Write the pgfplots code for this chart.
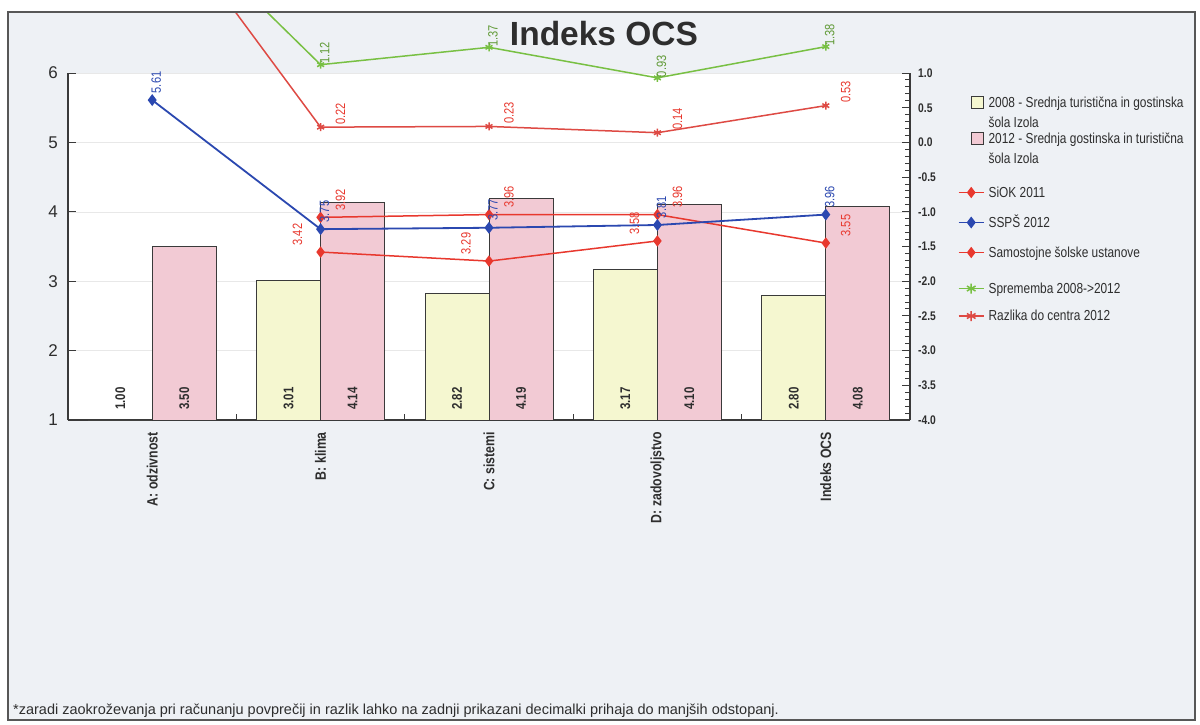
\documentclass[border=0pt]{standalone}
\usepackage{pgfplots}
\pgfplotsset{compat=1.18}
\usepackage{fontspec}
\setmainfont{Liberation Sans}
\newfontfamily\narrow{Liberation Sans}[FakeStretch=0.82]

\definecolor{frameBg}{HTML}{EEF1F5}
\definecolor{barA}{HTML}{F5F7D0}
\definecolor{barB}{HTML}{F2CAD4}
\definecolor{redc}{HTML}{E8382E}
\definecolor{bluec}{HTML}{2B48B0}
\definecolor{greenc}{HTML}{78C043}
\definecolor{razc}{HTML}{DE4A44}
\definecolor{txt}{HTML}{2E2E2E}
\definecolor{axc}{HTML}{3A3A3A}

\pgfplotsset{
  my line legend/.style={legend image code/.code={\draw[mark repeat=2,mark phase=2,##1] plot coordinates {(0pt,4.5pt) (12.5pt,4.5pt) (25pt,4.5pt)};}},
  my bar legend/.style={legend image code/.code={\draw[##1] (13pt,-1.5pt) rectangle (25pt,10.5pt);}},
  lbl/.style n args={4}{nodes near coords, point meta=explicit symbolic,
    every node near coord/.style={xshift=#1, yshift=#2, rotate=90, anchor=west, inner sep=0pt, font=#3, text=#4}},
}
\newcommand{\lblfont}{\narrow\fontsize{13.5}{14}\selectfont}

\begin{document}
\begin{tikzpicture}[x=1pt,y=1pt]
\path (-68,-304) rectangle (1132,420);
\fill[frameBg] (-60,-300) rectangle (1127,408);

\begin{axis}[
  at={(0,0)}, anchor=south west,
  scale only axis, width=842pt, height=347pt,
  xmin=-0.5, xmax=4.5, ymin=1, ymax=6,
  axis x line*=bottom, axis y line*=left,
  axis line style={axc, line width=1.3pt},
  xtick={0,1,2,3,4},
  xticklabels={A: odzivnost, B: klima, C: sistemi, D: zadovoljstvo, Indeks OCS},
  minor xtick={0.5,1.5,2.5,3.5},
  major x tick style={draw=none},
  minor x tick style={axc, line width=1pt},
  tick align=inside, major tick length=8pt, minor tick length=6pt,
  ytick={1,2,3,4,5,6},
  ymajorgrids, grid style={draw=black!9, line width=0.6pt},
  y tick style={axc, line width=1pt},
  yticklabel style={font=\fontsize{17}{17}\selectfont, text=txt, inner sep=0pt, xshift=-10pt},
  xticklabel style={font=\narrow\bfseries\fontsize{15}{16}\selectfont, text=txt, yshift=-12pt, rotate=90, anchor=east, inner sep=0pt},
  axis background/.style={fill=white},
  /pgf/number format/assume math mode=true,
]
\addplot[ybar, bar width=64pt, bar shift=-32pt, fill=barA, draw=axc, line width=0.9pt]
  coordinates {(0,1.00) (1,3.01) (2,2.82) (3,3.17) (4,2.80)};
\addplot[ybar, bar width=64pt, bar shift=32pt, fill=barB, draw=axc, line width=0.9pt]
  coordinates {(0,3.50) (1,4.14) (2,4.19) (3,4.10) (4,4.08)};
% bar value labels (at the bottom of each bar)
\addplot[draw=none, mark=none, lbl={-32pt}{10pt}{\narrow\bfseries\fontsize{14}{14}\selectfont}{txt}]
  coordinates {(0,1)[1.00] (1,1)[3.01] (2,1)[2.82] (3,1)[3.17] (4,1)[2.80]};
\addplot[draw=none, mark=none, lbl={32pt}{10pt}{\narrow\bfseries\fontsize{14}{14}\selectfont}{txt}]
  coordinates {(0,1)[3.50] (1,1)[4.14] (2,1)[4.19] (3,1)[4.10] (4,1)[4.08]};
% SiOK 2011
\addplot[redc, line width=1.5pt, mark=diamond*, mark size=4.5pt, lbl={20pt}{6pt}{\lblfont}{redc}]
  coordinates {(1,3.92)[3.92] (2,3.96)[3.96] (3,3.96)[3.96] (4,3.55)[3.55]};
% Samostojne solske ustanove
\addplot[redc, line width=1.5pt, mark=diamond*, mark size=4.5pt, lbl={-23pt}{6pt}{\lblfont}{redc}]
  coordinates {(1,3.42)[3.42] (2,3.29)[3.29] (3,3.58)[3.58]};
% SSPS 2012
\addplot[bluec, line width=1.8pt, mark=diamond*, mark size=4.5pt, lbl={4pt}{6pt}{\lblfont}{bluec}]
  coordinates {(0,5.61)[5.61] (1,3.75)[3.75] (2,3.77)[3.77] (3,3.81)[3.81] (4,3.96)[3.96]};
\end{axis}

\begin{scope}
\clip (-60,-300) rectangle (1127,408);
\begin{axis}[
  at={(0,0)}, anchor=south west,
  scale only axis, width=842pt, height=347pt,
  xmin=-0.5, xmax=4.5, ymin=-4, ymax=1,
  axis x line=none, axis y line*=right,
  axis line style={axc, line width=1.3pt},
  clip=false,
  ytick={-4,-3.5,-3,-2.5,-2,-1.5,-1,-0.5,0,0.5,1},
  yticklabels={-4.0,-3.5,-3.0,-2.5,-2.0,-1.5,-1.0,-0.5,0.0,0.5,1.0},
  minor y tick num=4,
  tick align=inside, major tick length=8pt, minor tick length=5pt,
  y tick style={axc, line width=1pt},
  yticklabel style={font=\narrow\bfseries\fontsize{12.5}{13}\selectfont, text=txt, inner sep=0pt, xshift=8pt},
  my line legend,
  legend style={at={(1.053,0.94)}, anchor=north west, draw=none, fill=none,
    font=\narrow\fontsize{14.5}{20}\selectfont, text=txt, row sep=16pt, column sep=4pt,
    cells={anchor=base west},
    nodes={inner sep=0pt, text height=11pt, text depth=3pt}},
]
\addlegendimage{my bar legend, fill=barA, draw=axc, line width=0.9pt}
\addlegendentry[text depth=9pt]{\begin{tabular}[t]{@{}l@{}}2008 - Srednja turistična in gostinska\\šola Izola\end{tabular}}
\addlegendimage{my bar legend, fill=barB, draw=axc, line width=0.9pt}
\addlegendentry[text depth=27pt]{\begin{tabular}[t]{@{}l@{}}2012 - Srednja gostinska in turistična\\šola Izola\end{tabular}}
\addlegendimage{my line legend, redc, line width=1.5pt, mark=diamond*, mark size=4.5pt}
\addlegendentry{SiOK 2011}
\addlegendimage{my line legend, bluec, line width=1.8pt, mark=diamond*, mark size=4.5pt}
\addlegendentry{SSPŠ 2012}
\addlegendimage{my line legend, redc, line width=1.5pt, mark=diamond*, mark size=4.5pt}
\addlegendentry[text depth=9pt]{Samostojne šolske ustanove}
\addlegendimage{my line legend, greenc, line width=1.5pt, mark=asterisk, mark size=5pt}
\addlegendentry[text depth=0pt]{Sprememba 2008->2012}
\addlegendimage{my line legend, razc, line width=1.5pt, mark=asterisk, mark size=5pt}
\addlegendentry{Razlika do centra 2012}
% Sprememba 2008->2012
\addplot[forget plot, greenc, line width=1.5pt, mark=asterisk, mark size=4pt, lbl={4pt}{0pt}{\lblfont}{greenc!80!black}]
  coordinates {(0,3.50)[] (1,1.12)[1.12] (2,1.37)[1.37] (3,0.93)[0.93] (4,1.38)[1.38]};
% Razlika do centra 2012
\addplot[forget plot, razc, line width=1.5pt, mark=asterisk, mark size=4pt, lbl={20pt}{2pt}{\lblfont}{redc}]
  coordinates {(0,3.50)[] (1,0.22)[0.22] (2,0.23)[0.23] (3,0.14)[0.14] (4,0.53)[0.53]};
\end{axis}
\end{scope}

\node[anchor=base, font=\bfseries\fontsize{33.5}{36}\selectfont, text=txt] at (536,374) {Indeks OCS};
\node[anchor=base west, inner sep=0pt, font=\fontsize{14.5}{15}\selectfont, text=txt] at (-55,-294)
  {*zaradi zaokroževanja pri računanju povprečij in razlik lahko na zadnji prikazani decimalki prihaja do manjših odstopanj.};
\draw[axc!85, line width=1.6pt] (-60,-300) rectangle (1127,408);
\end{tikzpicture}
\end{document}
